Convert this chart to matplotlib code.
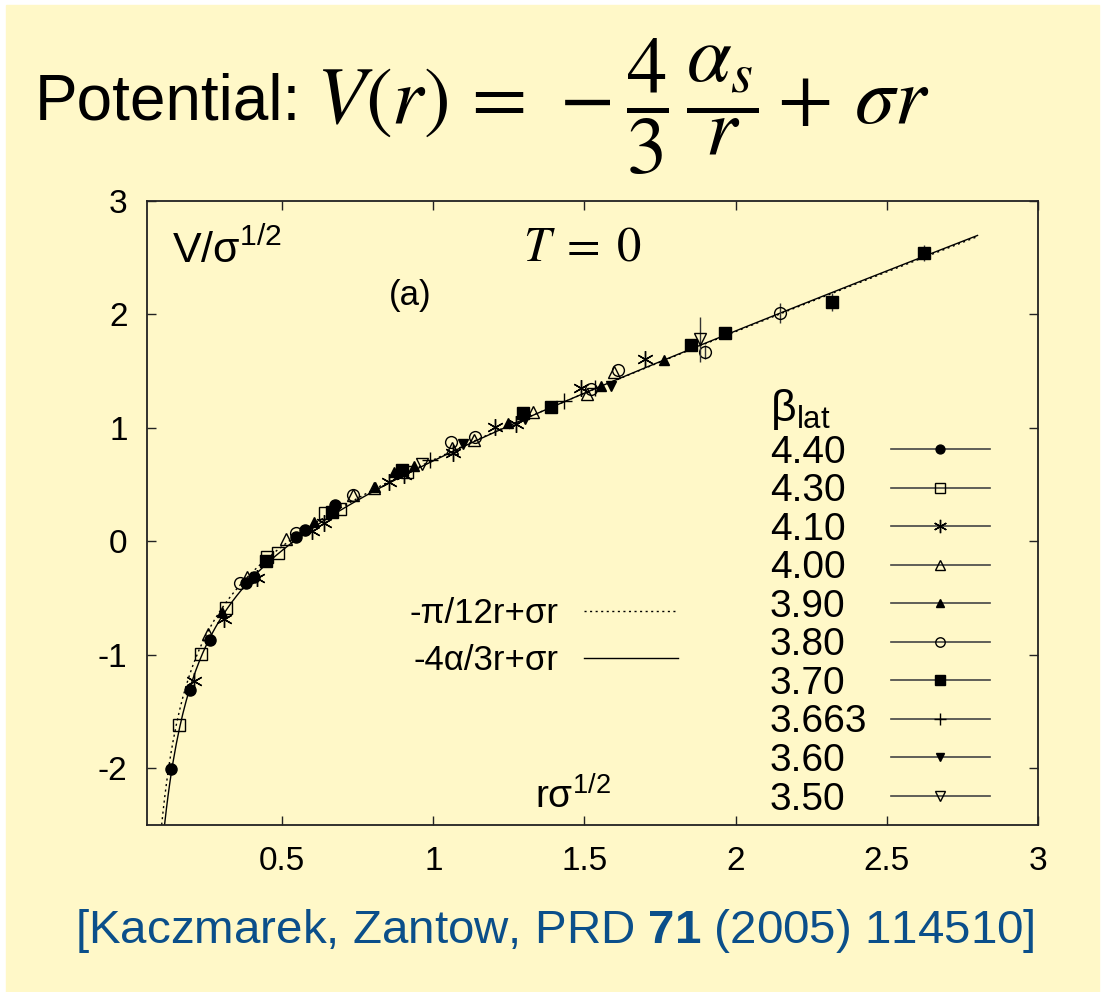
import numpy as np
import matplotlib
matplotlib.use("Agg")
import matplotlib.pyplot as plt
from matplotlib.lines import Line2D
from matplotlib.patches import Rectangle
from matplotlib.ticker import FixedLocator, FuncFormatter

# ---- data (r*sqrt(sigma), V/sqrt(sigma), error) ----
x_440 = [0.131, 0.195, 0.263, 0.381, 0.408, 0.545, 0.576, 0.675]
y_440 = [-2.007, -1.308, -0.868, -0.368, -0.316, 0.042, 0.100, 0.322]

x_430 = [0.158, 0.233, 0.315, 0.451, 0.486, 0.642, 0.690, 0.913]
y_430 = [-1.617, -0.991, -0.589, -0.140, -0.105, 0.254, 0.284, 0.615]

x_410 = [0.209, 0.309, 0.416, 0.598, 0.639, 0.852, 0.902, 1.065, 1.204, 1.275, 1.487, 1.700]
y_410 = [-1.235, -0.685, -0.325, 0.093, 0.166, 0.527, 0.586, 0.777, 1.012, 1.035, 1.350, 1.605]

x_400 = [0.256, 0.383, 0.513, 0.736, 0.805, 1.062, 1.133, 1.330, 1.509, 1.597]
y_400 = [-0.815, -0.316, 0.019, 0.410, 0.469, 0.820, 0.890, 1.144, 1.297, 1.496]

x_390 = [0.300, 0.604, 0.808, 0.870, 0.935, 1.248, 1.556, 1.763]
y_390 = [-0.627, 0.174, 0.478, 0.615, 0.668, 1.047, 1.370, 1.600]

x_380 = [0.361, 0.545, 0.736, 1.060, 1.137, 1.520, 1.612, 1.898, 2.147]
y_380 = [-0.368, 0.072, 0.410, 0.879, 0.918, 1.341, 1.511, 1.667, 2.011]
e_380 = [0.0, 0.0, 0.0, 0.0, 0.0, 0.0, 0.0, 0.06, 0.09]

x_370 = [0.447, 0.665, 0.898, 1.297, 1.390, 1.853, 1.965, 2.317, 2.622]
y_370 = [-0.169, 0.257, 0.630, 1.135, 1.188, 1.731, 1.834, 2.113, 2.545]
e_370 = [0.0, 0.0, 0.0, 0.0, 0.0, 0.03, 0.0, 0.08, 0.07]

x_3663 = [0.990, 1.431, 1.536]
y_3663 = [0.718, 1.240, 1.350]

x_360 = [1.098, 1.302, 1.588]
y_360 = [0.856, 1.080, 1.370]

x_350 = [0.962, 1.882]
y_350 = [0.683, 1.781]
e_350 = [0.0, 0.20]

# curve parameters (V = -a/r + sigma r + c, sigma = 1)
a_pi, c_pi = np.pi / 12, -0.02
a_alpha, c_alpha = 0.29, 0.0

bg = "#fff8c8"

plt.rcParams["font.family"] = ["Liberation Sans", "DejaVu Sans"]
plt.rcParams["mathtext.fontset"] = "custom"
plt.rcParams["mathtext.rm"] = "Liberation Sans"
plt.rcParams["mathtext.it"] = "Liberation Sans:italic"
plt.rcParams["mathtext.bf"] = "Liberation Sans:bold"
plt.rcParams["axes.unicode_minus"] = False

fig = plt.figure(figsize=(11.13, 9.92), dpi=100, facecolor="white")
fig.patches.append(Rectangle((6 / 1113, 0), 1093 / 1113, 987 / 992,
                             transform=fig.transFigure, color=bg, zorder=-10))

ax = fig.add_axes([147 / 1113, 1 - 825 / 992, 891 / 1113, 624 / 992])
ax.set_facecolor("none")

# series: label, x, y, err, marker, filled, size
series = [
    ("4.40", x_440, y_440, None, "o", True, 8),
    ("4.30", x_430, y_430, None, "s", False, 8.5),
    ("4.10", x_410, y_410, None, (6, 2, 0), False, 12),
    ("4.00", x_400, y_400, None, "^", False, 8.5),
    ("3.90", x_390, y_390, None, "^", True, 7.5),
    ("3.80", x_380, y_380, e_380, "o", False, 8.5),
    ("3.70", x_370, y_370, e_370, "s", True, 8.5),
    ("3.663", x_3663, y_3663, None, "+", False, 11),
    ("3.60", x_360, y_360, None, "v", True, 7.5),
    ("3.50", x_350, y_350, e_350, "v", False, 8.5),
]

# theory curves
r = np.linspace(0.09, 2.8, 500)
ax.plot(r, -a_pi / r + r + c_pi, color="k", lw=1.0, ls=(0, (1.5, 2.5)))
ax.plot(r, -a_alpha / r + r + c_alpha, color="k", lw=1.0)

handles = []
for lab, xs, ys, err, m, filled, ms in series:
    fc = "k" if filled else "none"
    if err is not None:
        ax.errorbar(xs, ys, yerr=err, fmt="none", ecolor="#333333", elinewidth=1.0, capsize=0)
    ax.plot(xs, ys, ls="none", marker=m, ms=ms, mfc=fc, mec="k", mew=1.0)
    handles.append(Line2D([], [], color="#444444", lw=1.2, marker=m, ms=ms * 0.8,
                          mfc=fc, mec="k", mew=1.0))

ax.set_xlim(0.053, 3)
ax.set_ylim(-2.5, 3)
ax.xaxis.set_major_locator(FixedLocator([0.5, 1, 1.5, 2, 2.5, 3]))
ax.yaxis.set_major_locator(FixedLocator([-2, -1, 0, 1, 2, 3]))
fmt = FuncFormatter(lambda v, p: f"{v:g}")
ax.xaxis.set_major_formatter(fmt)
ax.yaxis.set_major_formatter(fmt)
ax.tick_params(direction="in", length=6.5, width=1.0, top=True, right=True,
               labelsize=24, color="#222222")
ax.tick_params(axis="x", pad=15)
ax.tick_params(axis="y", pad=14)
for sp in ax.spines.values():
    sp.set_linewidth(1.3)
    sp.set_color("#222222")

# labels inside the frame
ax.text(0.028, 0.9006, r"$\mathregular{V/\sigma^{1/2}}$", transform=ax.transAxes,
        fontsize=31, va="baseline", ha="left")
ax.text(0.295, 0.833, "(a)", transform=ax.transAxes, fontsize=25, va="baseline", ha="center")
ax.text(0.489, 0.904, r"$T\;=\;0$", transform=ax.transAxes, fontsize=35, va="baseline",
        ha="center", math_fontfamily="stix")
ax.text(0.4355, 0.027, r"$\mathregular{r\sigma^{1/2}}$", transform=ax.transAxes,
        fontsize=28, va="baseline", ha="left")

# key for the two curves
curve_handles = [Line2D([], [], color="k", lw=1.0, ls=(0, (1.5, 2.5))),
                 Line2D([], [], color="k", lw=1.0)]
leg1 = ax.legend(curve_handles, ["-π/12r+σr", "-4α/3r+σr"], loc="upper right",
                 bbox_to_anchor=(0.596, 0.365), markerfirst=False, frameon=False,
                 fontsize=25, handlelength=2.7, handletextpad=0.75, labelspacing=0.4,
                 borderpad=0, borderaxespad=0)
ax.add_artist(leg1)

# beta key: labels (left aligned) and samples (right)
blank = [Line2D([], [], ls="none") for _ in series]
leg2 = ax.legend(blank, [s[0] for s in series], loc="lower left",
                 bbox_to_anchor=(0.699, 0.012), frameon=False, fontsize=28,
                 handlelength=0, handletextpad=0, labelspacing=0.065,
                 borderpad=0, borderaxespad=0,
                 title=r"$\mathregular{\beta_{lat}}$", title_fontsize=32, alignment="left")
ax.add_artist(leg2)
leg3 = ax.legend(handles, [""] * len(handles), loc="lower right",
                 bbox_to_anchor=(0.946, 0.012), frameon=False, fontsize=28,
                 handlelength=2.55, handletextpad=0, labelspacing=0.065, numpoints=1,
                 borderpad=0, borderaxespad=0)

# title and reference
fig.text(35 / 1113, 1 - 120 / 992, "Potential:", fontsize=46, va="baseline", ha="left")
fig.text(316 / 1113, 1 - 124 / 992,
         r"$V(r)\,=\,-\dfrac{4}{3}\,\dfrac{\alpha_s}{r}+\,\sigma r$",
         fontsize=58, va="baseline", ha="left", math_fontfamily="stix")
fig.text(75 / 1113, 1 - 943 / 992,
         r"[Kaczmarek, Zantow, PRD $\mathbf{71}$ (2005) 114510]",
         fontsize=34.2, color="#0b4f8a", va="baseline", ha="left")

fig.savefig("out.png", dpi=100, facecolor="white")
